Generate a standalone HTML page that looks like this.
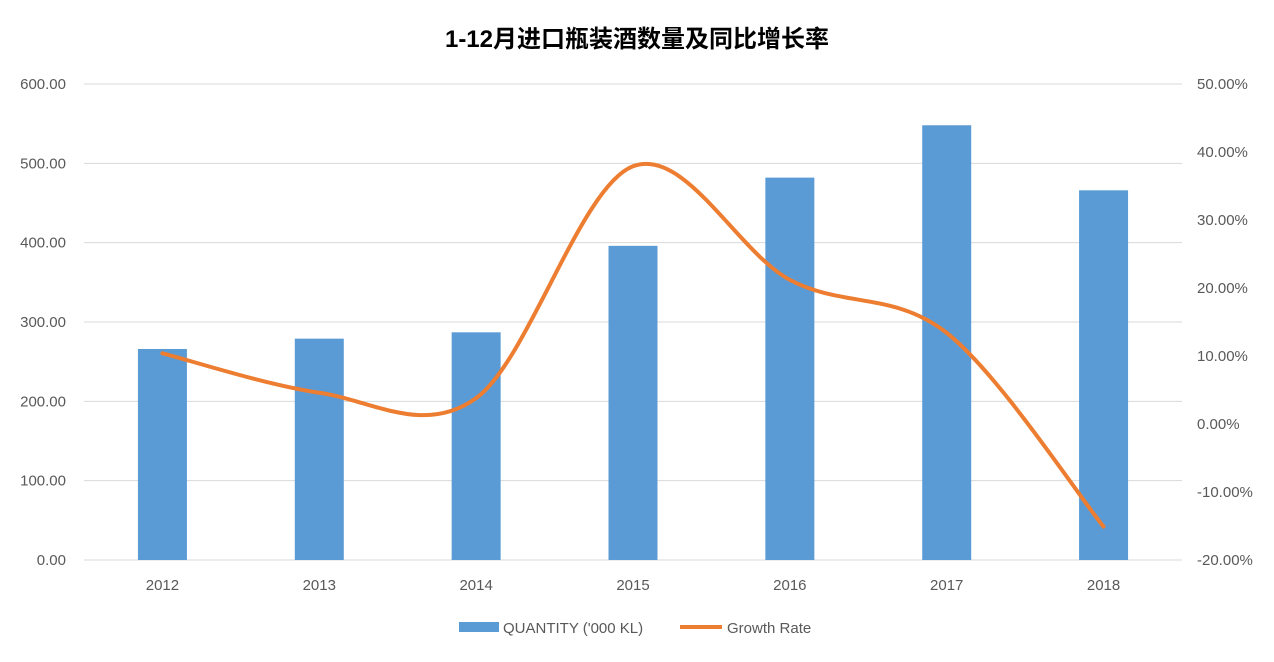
<!DOCTYPE html>
<html><head><meta charset="utf-8"><style>
body{margin:0;background:#fff;font-family:"Liberation Sans","Noto Sans CJK SC",sans-serif;}
svg text{font-family:"Liberation Sans","Noto Sans CJK SC",sans-serif;fill:#595959;font-size:15px;}
</style></head><body>
<svg id="chart" width="1274" height="657">
<text x="637" y="47" text-anchor="middle" style="font-size:24px;font-weight:bold;fill:#000">1-12月进口瓶装酒数量及同比增长率</text>
<g id="grid"></g><g id="bars"></g><g id="line"></g><g id="axes"></g>
<g>
<rect x="459" y="622" width="40" height="10" fill="#5b9bd5"/>
<text x="503" y="633">QUANTITY ('000 KL)</text>
<line x1="680" y1="627" x2="722" y2="627" stroke="#ed7d31" stroke-width="4"/>
<text x="727" y="633">Growth Rate</text>
</g>
</svg>
<script>
const categories=["2012","2013","2014","2015","2016","2017","2018"];
const quantity=[266,279,287,396,482,548,466];
const growth=[10.4,4.6,3.8,37.9,21.2,13.4,-15.1];
const leftTicks=["0.00","100.00","200.00","300.00","400.00","500.00","600.00"];
const rightTicks=["-20.00%","-10.00%","0.00%","10.00%","20.00%","30.00%","40.00%","50.00%"];
const NS="http://www.w3.org/2000/svg";
const x0=84,x1=1182,yTop=84,yBot=560;
const bw=(x1-x0)/categories.length;
const xc=i=>x0+bw*(i+0.5);
const yL=v=>yBot-(v/600)*(yBot-yTop);
const yR=v=>yBot-((v+20)/70)*(yBot-yTop);
function mk(tag,attrs,parent){const e=document.createElementNS(NS,tag);for(const k in attrs)e.setAttribute(k,attrs[k]);document.getElementById(parent).appendChild(e);return e;}
leftTicks.forEach((t,i)=>{const v=parseFloat(t);const y=yL(v);
 const l=mk('line',{x1:x0,x2:x1,y1:y,y2:y,stroke:'#d9d9d9','stroke-width':1},'grid');
 
 
 const tx=mk('text',{x:66,y:y+5,'text-anchor':'end'},'axes');tx.textContent=t;
 
 
});
rightTicks.forEach(t=>{const v=parseFloat(t);const y=yR(v);
 const tx=mk('text',{x:1197,y:y+5},'axes');tx.textContent=t;
 
 
});
categories.forEach((c,i)=>{
 const r=mk('rect',{x:xc(i)-24.5,y:yL(quantity[i]),width:49,height:yBot-yL(quantity[i]),fill:'#5b9bd5'},'bars');
 
 
 const tx=mk('text',{x:xc(i),y:590,'text-anchor':'middle'},'axes');tx.textContent=c;
 
 
});
const pts=growth.map((g,i)=>[xc(i),yR(g)]);
let d='M'+pts[0][0]+','+pts[0][1];
for(let i=0;i<pts.length-1;i++){
 const p0=pts[i-1]||pts[i],p1=pts[i],p2=pts[i+1],p3=pts[i+2]||p2;const t=6;
 d+=` C${p1[0]+(p2[0]-p0[0])/t},${p1[1]+(p2[1]-p0[1])/t} ${p2[0]-(p3[0]-p1[0])/t},${p2[1]-(p3[1]-p1[1])/t} ${p2[0]},${p2[1]}`;
}
const path=mk('path',{d:d,fill:'none',stroke:'#ed7d31','stroke-width':4,'stroke-linecap':'round'},'line');


</script>
</body></html>
